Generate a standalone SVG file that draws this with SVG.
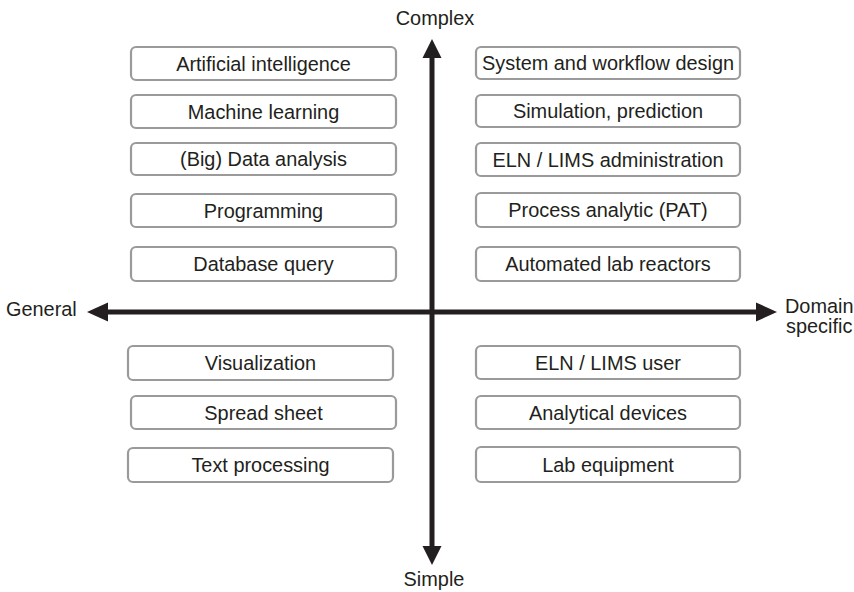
<svg xmlns="http://www.w3.org/2000/svg" width="854" height="592" viewBox="0 0 854 592">
<defs>
<style>
.box{fill:#fff;stroke:#9a9a9a;stroke-width:2.2}
.t{font-family:"Liberation Sans",Arial,Helvetica,sans-serif;font-size:19.9px;fill:#231f20;text-anchor:middle}
.lbl{font-family:"Liberation Sans",Arial,Helvetica,sans-serif;font-size:19.9px;fill:#231f20}
.ax{stroke:#231f20;stroke-width:5;fill:none}
.hd{fill:#231f20}
</style>
</defs>
<rect width="854" height="592" fill="#fff"/>
<g id="axes">
<line class="ax" x1="432" y1="55" x2="432" y2="548"/>
<polygon class="hd" points="432,39 422.5,58 441.5,58"/>
<polygon class="hd" points="432,565 422.5,546 441.5,546"/>
<line class="ax" x1="105" y1="312" x2="758" y2="312"/>
<polygon class="hd" points="87,312 108,302.5 108,321.5"/>
<polygon class="hd" points="777,312 756,302.5 756,321.5"/>
</g>
<g id="axis-labels">
<text class="t" x="435" y="25">Complex</text>
<text class="t" x="434" y="586">Simple</text>
<text class="lbl" x="6" y="316">General</text>
<text class="lbl" x="785" y="313">Domain</text>
<text class="lbl" x="786" y="333">specific</text>
</g>
<g id="n-ai"><rect class="box" x="131" y="47" width="265" height="33" rx="5"/><text class="t" x="263.5" y="70.7">Artificial intelligence</text></g>
<g id="n-ml"><rect class="box" x="131" y="95" width="265" height="33" rx="5"/><text class="t" x="263.5" y="118.7">Machine learning</text></g>
<g id="n-bigdata"><rect class="box" x="131" y="143" width="265" height="32" rx="5"/><text class="t" x="263.5" y="166.2">(Big) Data analysis</text></g>
<g id="n-prog"><rect class="box" x="131" y="194" width="265" height="33" rx="5"/><text class="t" x="263.5" y="217.7">Programming</text></g>
<g id="n-db"><rect class="box" x="131" y="247" width="265" height="34" rx="5"/><text class="t" x="263.5" y="271.2">Database query</text></g>
<g id="n-vis"><rect class="box" x="128" y="346" width="265" height="34" rx="5"/><text class="t" x="260.5" y="370.2">Visualization</text></g>
<g id="n-sheet"><rect class="box" x="131" y="396" width="265" height="33" rx="5"/><text class="t" x="263.5" y="419.7">Spread sheet</text></g>
<g id="n-text"><rect class="box" x="128" y="448" width="265" height="34" rx="5"/><text class="t" x="260.5" y="472.2">Text processing</text></g>
<g id="n-sys"><rect class="box" x="476" y="47" width="264" height="32" rx="5"/><text class="t" x="608" y="70.2">System and workflow design</text></g>
<g id="n-sim"><rect class="box" x="476" y="95" width="264" height="32" rx="5"/><text class="t" x="608" y="118.2">Simulation, prediction</text></g>
<g id="n-elnadm"><rect class="box" x="476" y="143" width="264" height="33" rx="5"/><text class="t" x="608" y="166.7">ELN / LIMS administration</text></g>
<g id="n-pat"><rect class="box" x="476" y="193" width="264" height="34" rx="5"/><text class="t" x="608" y="217.2">Process analytic (PAT)</text></g>
<g id="n-reactors"><rect class="box" x="476" y="247" width="264" height="34" rx="5"/><text class="t" x="608" y="271.2">Automated lab reactors</text></g>
<g id="n-elnuser"><rect class="box" x="476" y="346" width="264" height="33" rx="5"/><text class="t" x="608" y="369.7">ELN / LIMS user</text></g>
<g id="n-analytical"><rect class="box" x="476" y="396" width="264" height="33" rx="5"/><text class="t" x="608" y="419.7">Analytical devices</text></g>
<g id="n-lab"><rect class="box" x="476" y="447" width="264" height="35" rx="5"/><text class="t" x="608" y="471.7">Lab equipment</text></g>
</svg>
